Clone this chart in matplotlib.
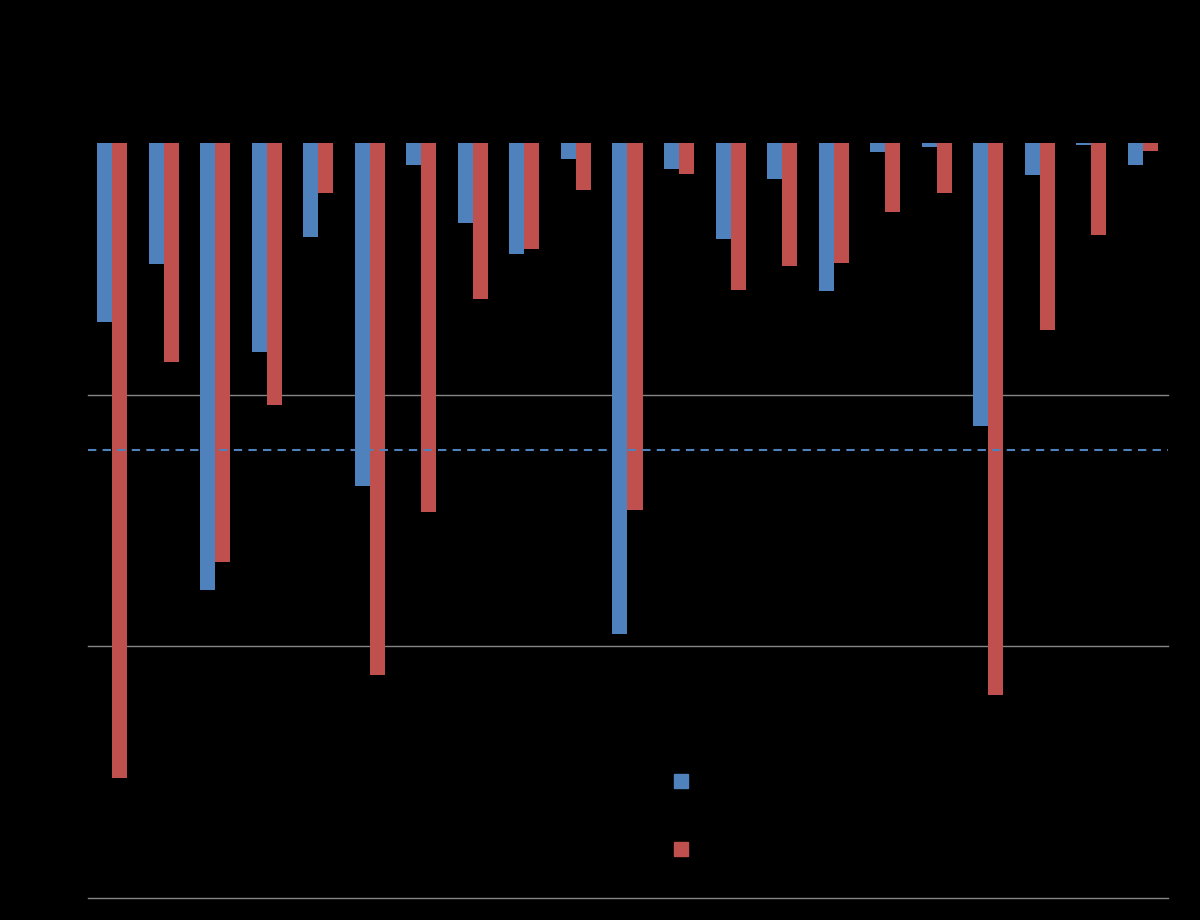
import numpy as np
import matplotlib.pyplot as plt
from matplotlib.patches import Patch

# valores (21 grupos)
grupos = [str(i) for i in range(1, 22)]
serie_azul = [-0.711, -0.481, -1.776, -0.830, -0.373, -1.363, -0.087, -0.318, -0.441, -0.064,
              -1.951, -0.103, -0.381, -0.143, -0.588, -0.036, -0.016, -1.124, -0.127, -0.008, -0.087]
serie_roja = [-2.523, -0.870, -1.665, -1.041, -0.199, -2.114, -1.466, -0.620, -0.421, -0.187,
              -1.458, -0.123, -0.584, -0.489, -0.477, -0.274, -0.199, -2.193, -0.743, -0.366, -0.032]
umbral = -1.22

azul = '#4F81BD'
rojo = '#C0504D'

fig = plt.figure(figsize=(12, 9.2001), dpi=100, facecolor='black')
ax = fig.add_axes([88/1200, 1 - 898/920, 1080/1200, (898 - 143)/920])
ax.set_facecolor('black')

x = np.arange(len(grupos))
w = 0.291
ax.bar(x - w/2, serie_azul, w, color=azul, zorder=3, label='Serie 1')
ax.bar(x + w/2, serie_roja, w, color=rojo, zorder=3, label='Serie 2')

for g in [-1, -2, -3]:
    ax.axhline(g, color='#868686', lw=1, zorder=1, clip_on=False)
ax.axhline(umbral, color=azul, lw=1.5, ls=(0, (4, 3)), zorder=4)

ax.set_xlim(-0.4656, 20.485)
ax.set_ylim(-3, 0)
ax.set_xticks([])
ax.set_yticks([])
for s in ax.spines.values():
    s.set_visible(False)

handles = [Patch(color=azul), Patch(color=rojo)]
fig.legend(handles, ['Serie 1', 'Serie 2'], loc='upper left',
           bbox_to_anchor=(656/1200, 1 - 755/920), frameon=False,
           fontsize=14, labelcolor='black', handlelength=0.75, handleheight=0.75,
           labelspacing=2.55, handletextpad=0.8)

fig.savefig('out.png', dpi=100, facecolor='black')
